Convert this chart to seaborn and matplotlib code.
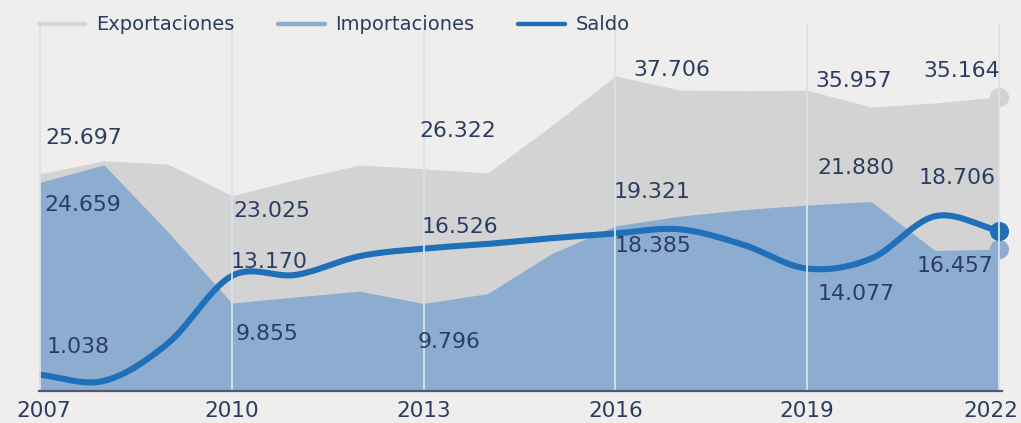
import numpy as np
import pandas as pd
import matplotlib
matplotlib.use("Agg")
import matplotlib.pyplot as plt
import matplotlib.transforms as mtransforms
from matplotlib.lines import Line2D
import seaborn as sns

# ---------------- data ----------------
years = list(range(2007, 2023))
exportaciones = [25.697, 27.3, 26.9, 23.025, 25.0, 26.8, 26.322, 25.8, 31.6,
                 37.706, 36.0, 35.9, 35.957, 33.9, 34.4, 35.164]
importaciones = [24.659, 26.8, 18.6, 9.855, 10.6, 11.3, 9.796, 11.0, 15.9,
                 19.321, 20.5, 21.3, 21.880, 22.3, 16.3, 16.457]
saldo = [1.038, 0.3, 4.9, 13.170, 13.3, 15.6, 16.526, 17.1, 17.8,
         18.385, 18.9, 17.0, 14.077, 15.3, 20.5, 18.706]
tick_years = [2007, 2010, 2013, 2016, 2019, 2022]
tick_labels = ["2007", "2010", "2013", "2016", "2019", "2022"]
series_names = ["Exportaciones", "Importaciones", "Saldo"]

# labelled values
label_exp = {2007: "25.697", 2010: "23.025", 2013: "26.322", 2016: "37.706", 2019: "35.957", 2022: "35.164"}
label_imp = {2007: "24.659", 2010: "9.855", 2013: "9.796", 2016: "19.321", 2019: "21.880", 2022: "16.457"}
label_sal = {2007: "1.038", 2010: "13.170", 2013: "16.526", 2016: "18.385", 2019: "14.077", 2022: "18.706"}

# ---------------- style ----------------
BG = "#EFEEEC"
GRAY = "#D3D3D3"
BLUE_AREA = "#8DADD0"
SALDO = "#1F6FB9"
TEXT = "#2A3C61"
GRID = "#D6E2EF"
AXIS = "#4E5A75"

sns.set_theme(style="white")
plt.rcParams['font.family'] = ['DejaVu Sans']

W, H = 1021, 423
fig = plt.figure(figsize=(W / 100, H / 100), dpi=100, facecolor=BG)

px_per_year = (999 - 40) / 15.0
x_left = 2007 - 1 / px_per_year
x_right = 2022 + 3 / px_per_year
px_per_unit = 8.15
zero_px = 383.3
y_bottom_px, y_top_px = 391, 23
y_min = (zero_px - y_bottom_px) / px_per_unit
y_max = (zero_px - y_top_px) / px_per_unit

ax = fig.add_axes([39 / W, (H - y_bottom_px) / H, (1002 - 39) / W, (y_bottom_px - y_top_px) / H])
ax.set_facecolor(BG)
ax.set_xlim(x_left, x_right)
ax.set_ylim(y_min, y_max)

df = pd.DataFrame({"year": years, "Exportaciones": exportaciones,
                   "Importaciones": importaciones, "Saldo": saldo})

# areas
ax.fill_between(df["year"], y_min, df["Exportaciones"], color=GRAY, lw=0, zorder=1)
ax.fill_between(df["year"], y_min, df["Importaciones"], color=BLUE_AREA, lw=0, zorder=2)


# smooth curve for the saldo line (Catmull-Rom through the yearly values)
def catmull_rom(x, y, n=30):
    P = np.column_stack([x, y]).astype(float)
    P = np.vstack([2 * P[0] - P[1], P, 2 * P[-1] - P[-2]])
    out = []
    t = np.linspace(0, 1, n, endpoint=False)[:, None]
    for i in range(1, len(P) - 2):
        p0, p1, p2, p3 = P[i - 1], P[i], P[i + 1], P[i + 2]
        seg = 0.5 * (2 * p1 + (-p0 + p2) * t + (2 * p0 - 5 * p1 + 4 * p2 - p3) * t ** 2
                     + (-p0 + 3 * p1 - 3 * p2 + p3) * t ** 3)
        out.append(seg)
    out.append(P[-2][None, :])
    out = np.vstack(out)
    return out[:, 0], out[:, 1]


sx, sy = catmull_rom(df["year"].values, df["Saldo"].values)
smooth_df = pd.DataFrame({"year": sx, "Saldo": sy})
sns.lineplot(data=smooth_df, x="year", y="Saldo", ax=ax, color=SALDO, lw=4.4,
             sort=False, estimator=None, zorder=4, solid_capstyle="round")

# end dots
ax.scatter([years[-1]], [exportaciones[-1]], s=190, color=GRAY, zorder=5, clip_on=False, linewidths=0)
ax.scatter([years[-1]], [importaciones[-1]], s=190, color=BLUE_AREA, zorder=5, clip_on=False, linewidths=0)
ax.scatter([years[-1]], [saldo[-1]], s=190, color=SALDO, zorder=5, clip_on=False, linewidths=0)

# vertical grid lines (on top)
for yr in tick_years:
    ax.axvline(yr, color=GRID, lw=1.3, zorder=6)

# spines / ticks
for s in ["top", "right", "left"]:
    ax.spines[s].set_visible(False)
ax.spines["bottom"].set_color(AXIS)
ax.spines["bottom"].set_linewidth(1.6)
ax.spines["bottom"].set_zorder(7)
ax.set_yticks([])
ax.set_xticks(tick_years)
ax.set_xticklabels(tick_labels, fontsize=15.5, color=TEXT)
ax.tick_params(axis="x", length=0, pad=7)
ax.set_xlabel("")
ax.set_ylabel("")
lab_last = ax.get_xticklabels()[-1]
lab_last.set_transform(lab_last.get_transform() + mtransforms.ScaledTranslation(-8 / 100, 0, fig.dpi_scale_trans))
lab_first = ax.get_xticklabels()[0]
lab_first.set_transform(lab_first.get_transform() + mtransforms.ScaledTranslation(4 / 100, 0, fig.dpi_scale_trans))


# value labels, positioned in pixel space (left x, center y)
def px_to_data(px, py):
    return (x_left + (px - 39) / px_per_year, (zero_px - py) / px_per_unit)


label_pos = {
    ("exp", 2007): (45, 138), ("imp", 2007): (44, 205), ("sal", 2007): (47, 347),
    ("exp", 2010): (233, 211), ("sal", 2010): (231, 262), ("imp", 2010): (236, 334),
    ("exp", 2013): (419, 131), ("sal", 2013): (422, 227), ("imp", 2013): (418, 342),
    ("exp", 2016): (633, 70), ("imp", 2016): (614, 192), ("sal", 2016): (615, 246),
    ("exp", 2019): (815, 81), ("imp", 2019): (817, 168), ("sal", 2019): (818, 294),
    ("exp", 2022): (923, 71), ("sal", 2022): (919, 178), ("imp", 2022): (917, 266),
}
texts = {"exp": label_exp, "imp": label_imp, "sal": label_sal}
for (kind, yr), (px, py) in label_pos.items():
    dx, dy = px_to_data(px, py)
    ax.text(dx, dy, texts[kind][yr], fontsize=15.8, color=TEXT, ha="left", va="center", zorder=8)

# legend
handles = [Line2D([0], [0], color="#D6D6D6", lw=3.2),
           Line2D([0], [0], color=BLUE_AREA, lw=3.2),
           Line2D([0], [0], color=SALDO, lw=3.2)]
leg = fig.legend(handles, series_names, loc="center left", bbox_to_anchor=(21 / W, 1 - 25 / H),
                 ncol=3, frameon=False, fontsize=14, labelcolor=TEXT,
                 handlelength=2.4, handletextpad=0.55, columnspacing=2.25)

fig.savefig("out.png", dpi=100, facecolor=BG)
